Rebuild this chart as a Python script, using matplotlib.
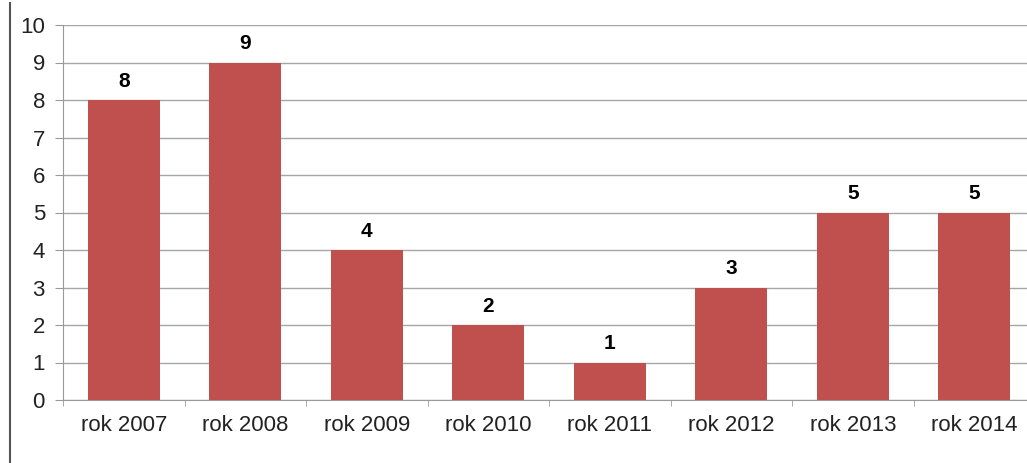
import matplotlib.pyplot as plt
from matplotlib.lines import Line2D

plt.rcParams['font.family'] = ['Liberation Sans', 'DejaVu Sans']

years = ["rok 2007", "rok 2008", "rok 2009", "rok 2010", "rok 2011", "rok 2012", "rok 2013", "rok 2014"]
counts = [8, 9, 4, 2, 1, 3, 5, 5]

fig = plt.figure(figsize=(10.27, 4.63), dpi=100)
ax = fig.add_axes([63 / 1027, 63 / 463, 972 / 1027, 375 / 463])

x = range(len(years))
bars = ax.bar(x, counts, width=0.59, color="#C0504D", zorder=3)
for b, v in zip(bars, counts):
    ax.text(b.get_x() + b.get_width() / 2, v + 0.25, str(v), ha="center", va="bottom",
            fontsize=15, fontweight="bold", color="black")

ax.set_xlim(-0.5, len(years) - 0.5)
ax.set_ylim(0, 10)
ax.set_yticks(range(0, 11))
ax.set_xticks(list(x))
ax.set_xticklabels(years)
ax.set_xticks([i - 0.5 for i in range(len(years) + 1)], minor=True)
ax.tick_params(axis="x", which="major", length=0, pad=11, labelsize=16, labelcolor="#222222")
ax.tick_params(axis="x", which="minor", length=4, color="#999999", direction="out")
ax.tick_params(axis="y", length=6, color="#999999", labelsize=16, pad=7, labelcolor="#222222")
ax.grid(axis="y", color="#a6a6a6", linewidth=1, zorder=0)

for s in ["top", "right"]:
    ax.spines[s].set_visible(False)
ax.spines["left"].set_color("#999999")
ax.spines["bottom"].set_color("#999999")

fig.add_artist(Line2D([10 / 1027, 10 / 1027], [0, 1 - 3 / 463], transform=fig.transFigure,
                      color="#555555", linewidth=1.5))

fig.savefig("out.png", dpi=100)
